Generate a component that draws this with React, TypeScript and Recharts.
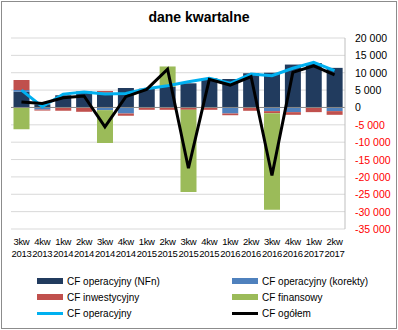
import { ComposedChart, Bar, Line, XAxis, YAxis, CartesianGrid, ReferenceLine } from 'recharts';

const categories = [
  '3kw 2013', '4kw 2013', '1kw 2014', '2kw 2014', '3kw 2014', '4kw 2014', '1kw 2015', '2kw 2015',
  '3kw 2015', '4kw 2015', '1kw 2016', '2kw 2016', '3kw 2016', '4kw 2016', '1kw 2017', '2kw 2017',
];
const nfn = [4500, 900, 3500, 4600, 4250, 5600, 5400, 6000, 6950, 8400, 8200, 9850, 10000, 12350, 12800, 11400];
const korekty = [500, -600, 0, 0, -770, -1740, 0, 0, 0, 0, -1740, 0, -1060, -1350, 0, -1060];
const inwestycyjny = [2900, -300, -960, -1250, 500, -680, -680, -680, -680, -680, -500, -960, -580, -770, -1350, -1060];
const finansowy = [-6300, 0, 0, 0, -9460, 0, 0, 5800, -23700, 0, 0, 0, -27800, 0, 0, 0];
const cfOperacyjny = [5000, 200, 3850, 4450, 3850, 4050, 5400, 6250, 7400, 8400, 6950, 9650, 9150, 11300, 13000, 10600];
const cfOgolem = [1600, 1150, 2800, 3300, -5600, 3100, 5200, 11000, -17500, 8100, 6450, 8900, -19600, 10100, 12000, 9350];
const yTicks = [20000, 15000, 10000, 5000, 0, -5000, -10000, -15000, -20000, -25000, -30000, -35000];

const COLORS = {
  nfn: '#213B5E',
  korekty: '#4F81BD',
  inw: '#C0504D',
  fin: '#9BBB59',
  op: '#00B0F0',
  ogolem: '#000000',
};

const data = categories.map((name, i) => ({
  name,
  nfn: nfn[i],
  korekty: korekty[i],
  inw: inwestycyjny[i],
  fin: finansowy[i],
  op: cfOperacyjny[i],
  ogolem: cfOgolem[i],
}));

const FONT = '"Liberation Sans", Arial, sans-serif';

const fmt = (v: number) => {
  const s = Math.abs(v).toString().replace(/\B(?=(\d{3})+(?!\d))/g, ' ');
  return (v < 0 ? '-' : '') + s;
};

const XTick = (props: any) => {
  const { x, y, payload } = props;
  const [a, b] = String(payload.value).split(' ');
  return (
    <text x={x} y={y} textAnchor="middle" fontSize={9.5} letterSpacing={-0.3} fontFamily={FONT} fill="#000">
      <tspan x={x} dy={8}>{a}</tspan>
      <tspan x={x} dy={12}>{b}</tspan>
    </text>
  );
};

const YTick = (props: any) => {
  const { x, y, payload } = props;
  const v = payload.value as number;
  return (
    <text x={x} y={y} dy={4} textAnchor="start" fontSize={10.5} fontFamily={FONT} fill={v < 0 ? '#FF0000' : '#000'}>
      {fmt(v)}
    </text>
  );
};

const legendItems = [
  { label: 'CF operacyjny (NFn)', color: COLORS.nfn, line: false },
  { label: 'CF operacyjny (korekty)', color: COLORS.korekty, line: false },
  { label: 'CF inwestycyjny', color: COLORS.inw, line: false },
  { label: 'CF finansowy', color: COLORS.fin, line: false },
  { label: 'CF operacyjny', color: COLORS.op, line: true },
  { label: 'CF ogółem', color: COLORS.ogolem, line: true },
];

export default function App() {
  return (
    <div style={{ position: 'absolute', left: 0, top: 0, width: 398, height: 330, background: '#fff', fontFamily: FONT }}>
      <div style={{ position: 'absolute', left: 1, top: 1, width: 394, height: 326, border: '1px solid #8C8C8C' }} />
      <div style={{ position: 'absolute', left: 0, top: 9, width: 398, textAlign: 'center', fontSize: 14, fontWeight: 'bold', color: '#000' }}>
        dane kwartalne
      </div>
      <div style={{ position: 'absolute', left: 0, top: 0 }}>
        <ComposedChart
          width={398}
          height={330}
          data={data}
          stackOffset="sign"
          barCategoryGap="12%"
          margin={{ top: 38, right: 0, left: 11, bottom: 0 }}
        >
          <CartesianGrid vertical={false} stroke="#D9D9D9" />
          <XAxis dataKey="name" height={101} axisLine={false} tickLine={false} interval={0} tick={<XTick />} />
          <YAxis
            orientation="right"
            width={53}
            domain={[-35000, 20000]}
            ticks={yTicks}
            interval={0}
            axisLine={{ stroke: '#BFBFBF' }}
            tickLine={false}
            tickMargin={4}
            tick={<YTick />}
          />
          <ReferenceLine y={0} stroke="#868686" />
          <Bar dataKey="nfn" stackId="a" fill={COLORS.nfn} isAnimationActive={false} />
          <Bar dataKey="korekty" stackId="a" fill={COLORS.korekty} isAnimationActive={false} />
          <Bar dataKey="inw" stackId="a" fill={COLORS.inw} isAnimationActive={false} />
          <Bar dataKey="fin" stackId="a" fill={COLORS.fin} isAnimationActive={false} />
          <Line dataKey="op" stroke={COLORS.op} strokeWidth={3} dot={false} isAnimationActive={false} />
          <Line dataKey="ogolem" stroke={COLORS.ogolem} strokeWidth={3} dot={false} isAnimationActive={false} />
        </ComposedChart>
      </div>
      <div style={{ position: 'absolute', left: 37, top: 273, width: 360, display: 'grid', gridTemplateColumns: '195px 165px', rowGap: 0, fontSize: 10, color: '#000' }}>
        {legendItems.map((item) => (
          <div key={item.label} style={{ display: 'flex', alignItems: 'center', height: 16.3 }}>
            <div style={{ width: 26, height: item.line ? 3 : 6, background: item.color, marginRight: 4 }} />
            <span>{item.label}</span>
          </div>
        ))}
      </div>
    </div>
  );
}
